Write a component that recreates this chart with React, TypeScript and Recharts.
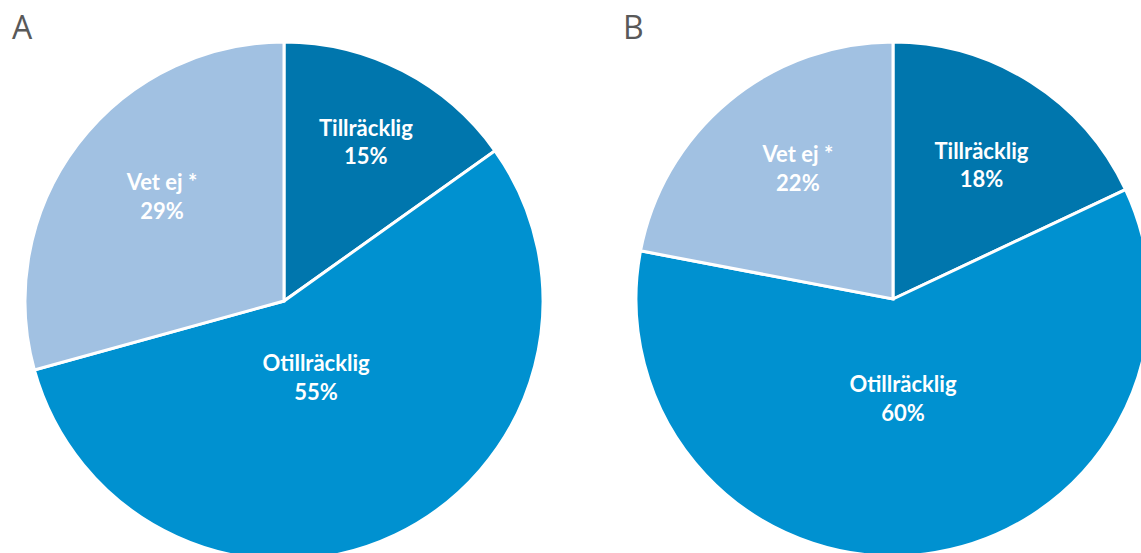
import { PieChart, Pie, Cell } from 'recharts';

const categories = ['Tillräcklig', 'Otillräcklig', 'Vet ej *'];
const valuesA = [15, 55, 29];
const valuesB = [18, 60, 22];
const panelTitles = ['A', 'B'];

const COLORS = ['#0076AD', '#0091D0', '#A1C1E2'];

// label placement per pie: distance from centre (fraction of radius)
// and a small clockwise nudge (degrees) from the slice mid angle
const LABEL_RADIUS = [
  [0.69, 0.32, 0.62],
  [0.625, 0.39, 0.628],
];
const LABEL_NUDGE = [
  [0, 2.7, 3.3],
  [1, 1.5, 3.5],
];

const dataA = categories.map((name, i) => ({ name, value: valuesA[i] }));
const dataB = categories.map((name, i) => ({ name, value: valuesB[i] }));

const RAD = Math.PI / 180;

const makeLabel = (pie: number) => (props: any) => {
  const { cx, cy, midAngle, outerRadius, index, name, value } = props;
  const r = outerRadius * LABEL_RADIUS[pie][index];
  const a = midAngle - LABEL_NUDGE[pie][index];
  const x = cx + r * Math.cos(-a * RAD);
  const y = cy + r * Math.sin(-a * RAD);
  return (
    <text
      x={x}
      y={y}
      fill="#fff"
      textAnchor="middle"
      fontFamily="Lato, sans-serif"
      fontWeight={700}
      fontSize={22}
    >
      <tspan x={x} dy={-6.3}>{name}</tspan>
      <tspan x={x} dy={28.5}>{`${value}%`}</tspan>
    </text>
  );
};

const titleStyle = {
  position: 'absolute' as const,
  top: 11,
  fontFamily: "'Open Sans', sans-serif",
  fontSize: 32,
  lineHeight: '32px',
  color: '#595959',
};

export default function App() {
  return (
    <div style={{ position: 'absolute', left: 0, top: 0, width: 1141, height: 553, background: '#fff', overflow: 'hidden' }}>
      <PieChart width={1141} height={553} margin={{ top: 0, right: 0, bottom: 0, left: 0 }}>
        <Pie
          data={dataA}
          dataKey="value"
          nameKey="name"
          cx={284}
          cy={301}
          outerRadius={259}
          startAngle={90}
          endAngle={-270}
          stroke="#fff"
          strokeWidth={3}
          label={makeLabel(0)}
          labelLine={false}
          isAnimationActive={false}
        >
          {dataA.map((d, i) => (
            <Cell key={d.name} fill={COLORS[i]} />
          ))}
        </Pie>
        <Pie
          data={dataB}
          dataKey="value"
          nameKey="name"
          cx={893}
          cy={299}
          outerRadius={257}
          startAngle={90}
          endAngle={-270}
          stroke="#fff"
          strokeWidth={3}
          label={makeLabel(1)}
          labelLine={false}
          isAnimationActive={false}
        >
          {dataB.map((d, i) => (
            <Cell key={d.name} fill={COLORS[i]} />
          ))}
        </Pie>
      </PieChart>
      <div style={{ ...titleStyle, left: 12 }}>{panelTitles[0]}</div>
      <div style={{ ...titleStyle, left: 623 }}>{panelTitles[1]}</div>
    </div>
  );
}
